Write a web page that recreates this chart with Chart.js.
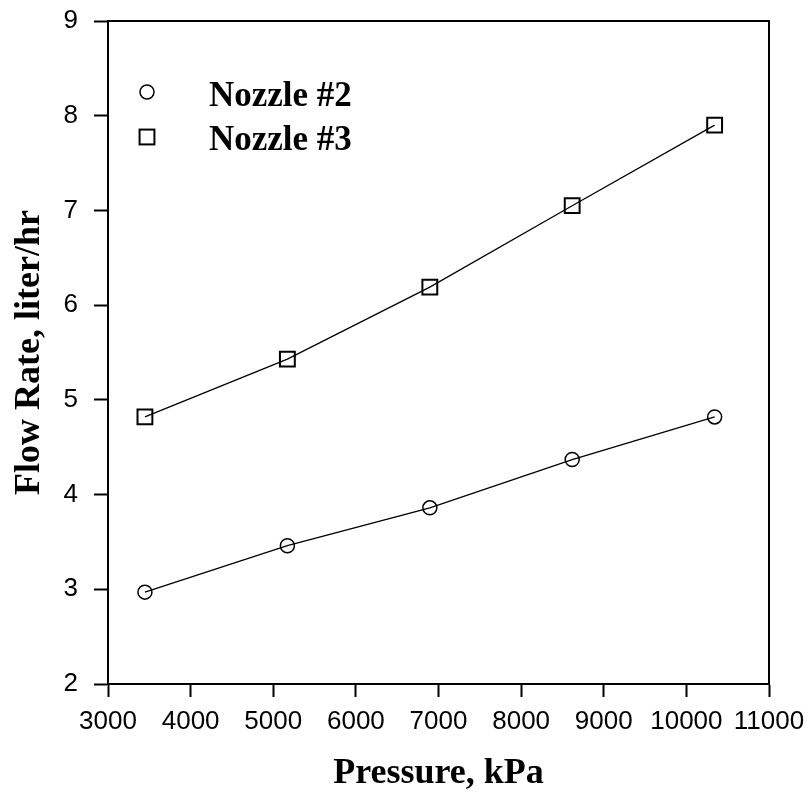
<!DOCTYPE html>
<html lang="en">
<head>
    <meta charset="UTF-8">
    <title>Flow Rate vs Pressure</title>
    <script src="https://cdn.jsdelivr.net/npm/chart.js"></script>
    <style>
        html, body { margin: 0; padding: 0; background: #fff; }
        #wrap { width: 807px; height: 798px; }
    </style>
</head>
<body>
    <div id="wrap"><canvas id="flowChart" width="807" height="798"></canvas></div>

    <script>
        // pressures (kPa) and flow rates (liter/hr)
        var pressures = [3447, 5171, 6895, 8618, 10342];
        var nozzle2 = [2.97, 3.46, 3.86, 4.37, 4.82];
        var nozzle3 = [4.82, 5.43, 6.19, 7.05, 7.90];
        var seriesNames = ['Nozzle #2', 'Nozzle #3'];
        var xTicks = [3000, 4000, 5000, 6000, 7000, 8000, 9000, 10000, 11000];
        var yTicks = [2, 3, 4, 5, 6, 7, 8, 9];

        function toPoints(ys) {
            return pressures.map(function (p, i) { return { x: p, y: ys[i] }; });
        }

        var serif = "'Liberation Serif', 'Times New Roman', serif";
        var sans = "'Liberation Sans', Arial, sans-serif";

        // box round the plot + legend inside the plot
        var framePlugin = {
            id: 'frame',
            afterDraw: function (chart) {
                var ctx = chart.ctx;
                var a = chart.chartArea;
                ctx.save();
                ctx.strokeStyle = '#000';
                ctx.lineWidth = 2;
                ctx.strokeRect(a.left, a.top, a.right - a.left, a.bottom - a.top);

                chart.data.datasets.forEach(function (ds, i) {
                    var mx = a.left + 39;
                    var my = a.top + 71 + i * 45;
                    ctx.lineWidth = ds.pointBorderWidth;
                    ctx.strokeStyle = '#000';
                    if (ds.pointStyle === 'rect') {
                        var s = ds.pointRadius * Math.SQRT1_2;
                        ctx.strokeRect(mx - s, my - s, 2 * s, 2 * s);
                    } else {
                        ctx.beginPath();
                        ctx.arc(mx, my, ds.pointRadius, 0, Math.PI * 2);
                        ctx.stroke();
                    }
                    ctx.fillStyle = '#000';
                    ctx.font = 'bold 35px ' + serif;
                    ctx.textBaseline = 'alphabetic';
                    ctx.textAlign = 'left';
                    ctx.fillText(ds.label, a.left + 101, a.top + 85 + i * 44);
                });
                ctx.restore();
            }
        };

        var ctx = document.getElementById('flowChart').getContext('2d');
        var chart = new Chart(ctx, {
            type: 'scatter',
            data: {
                datasets: [{
                    label: seriesNames[0],
                    data: toPoints(nozzle2),
                    showLine: true,
                    borderColor: '#000',
                    backgroundColor: 'rgba(0,0,0,0)',
                    borderWidth: 1.3,
                    pointStyle: 'circle',
                    pointRadius: 7,
                    pointBorderWidth: 1.5,
                    tension: 0
                }, {
                    label: seriesNames[1],
                    data: toPoints(nozzle3),
                    showLine: true,
                    borderColor: '#000',
                    backgroundColor: 'rgba(0,0,0,0)',
                    borderWidth: 1.3,
                    pointStyle: 'rect',
                    pointRadius: 10.5,
                    pointBorderWidth: 2,
                    tension: 0
                }]
            },
            options: {
                responsive: false,
                animation: false,
                layout: { padding: { left: 0, top: 21, right: 38, bottom: 0 } },
                scales: {
                    x: {
                        type: 'linear',
                        min: xTicks[0],
                        max: xTicks[xTicks.length - 1],
                        afterBuildTicks: function (scale) {
                            scale.ticks = xTicks.map(function (v) { return { value: v }; });
                        },
                        afterFit: function (scale) {
                            scale.height = 114;
                            scale.paddingLeft = 0;
                            scale.paddingRight = 0;
                        },
                        border: { display: true, color: '#000', width: 2 },
                        grid: { drawOnChartArea: false, drawTicks: true, tickLength: 13, tickColor: '#000', tickWidth: 2 },
                        ticks: {
                            color: '#000',
                            font: { family: sans, size: 26 },
                            padding: 9,
                            maxRotation: 0,
                            autoSkip: false,
                            callback: function (v) { return String(v); }
                        },
                        title: {
                            display: true,
                            text: 'Pressure, kPa',
                            color: '#000',
                            font: { family: serif, size: 36, weight: 'bold' },
                            padding: { top: 0, bottom: 3 }
                        }
                    },
                    y: {
                        type: 'linear',
                        min: yTicks[0],
                        max: yTicks[yTicks.length - 1],
                        afterBuildTicks: function (scale) {
                            scale.ticks = yTicks.map(function (v) { return { value: v }; });
                        },
                        afterFit: function (scale) {
                            scale.width = 108;
                            scale.paddingTop = 0;
                            scale.paddingBottom = 0;
                        },
                        border: { display: true, color: '#000', width: 2 },
                        grid: { drawOnChartArea: false, drawTicks: true, tickLength: 14, tickColor: '#000', tickWidth: 2 },
                        ticks: {
                            color: '#000',
                            font: { family: sans, size: 26 },
                            padding: 16,
                            autoSkip: false,
                            callback: function (v) { return String(v); }
                        },
                        title: {
                            display: true,
                            text: 'Flow Rate, liter/hr',
                            color: '#000',
                            font: { family: serif, size: 36, weight: 'bold' },
                            padding: { top: 8, bottom: 0 }
                        }
                    }
                },
                plugins: {
                    legend: { display: false },
                    tooltip: { enabled: false }
                }
            },
            plugins: [framePlugin]
        });
    </script>
</body>
</html>
